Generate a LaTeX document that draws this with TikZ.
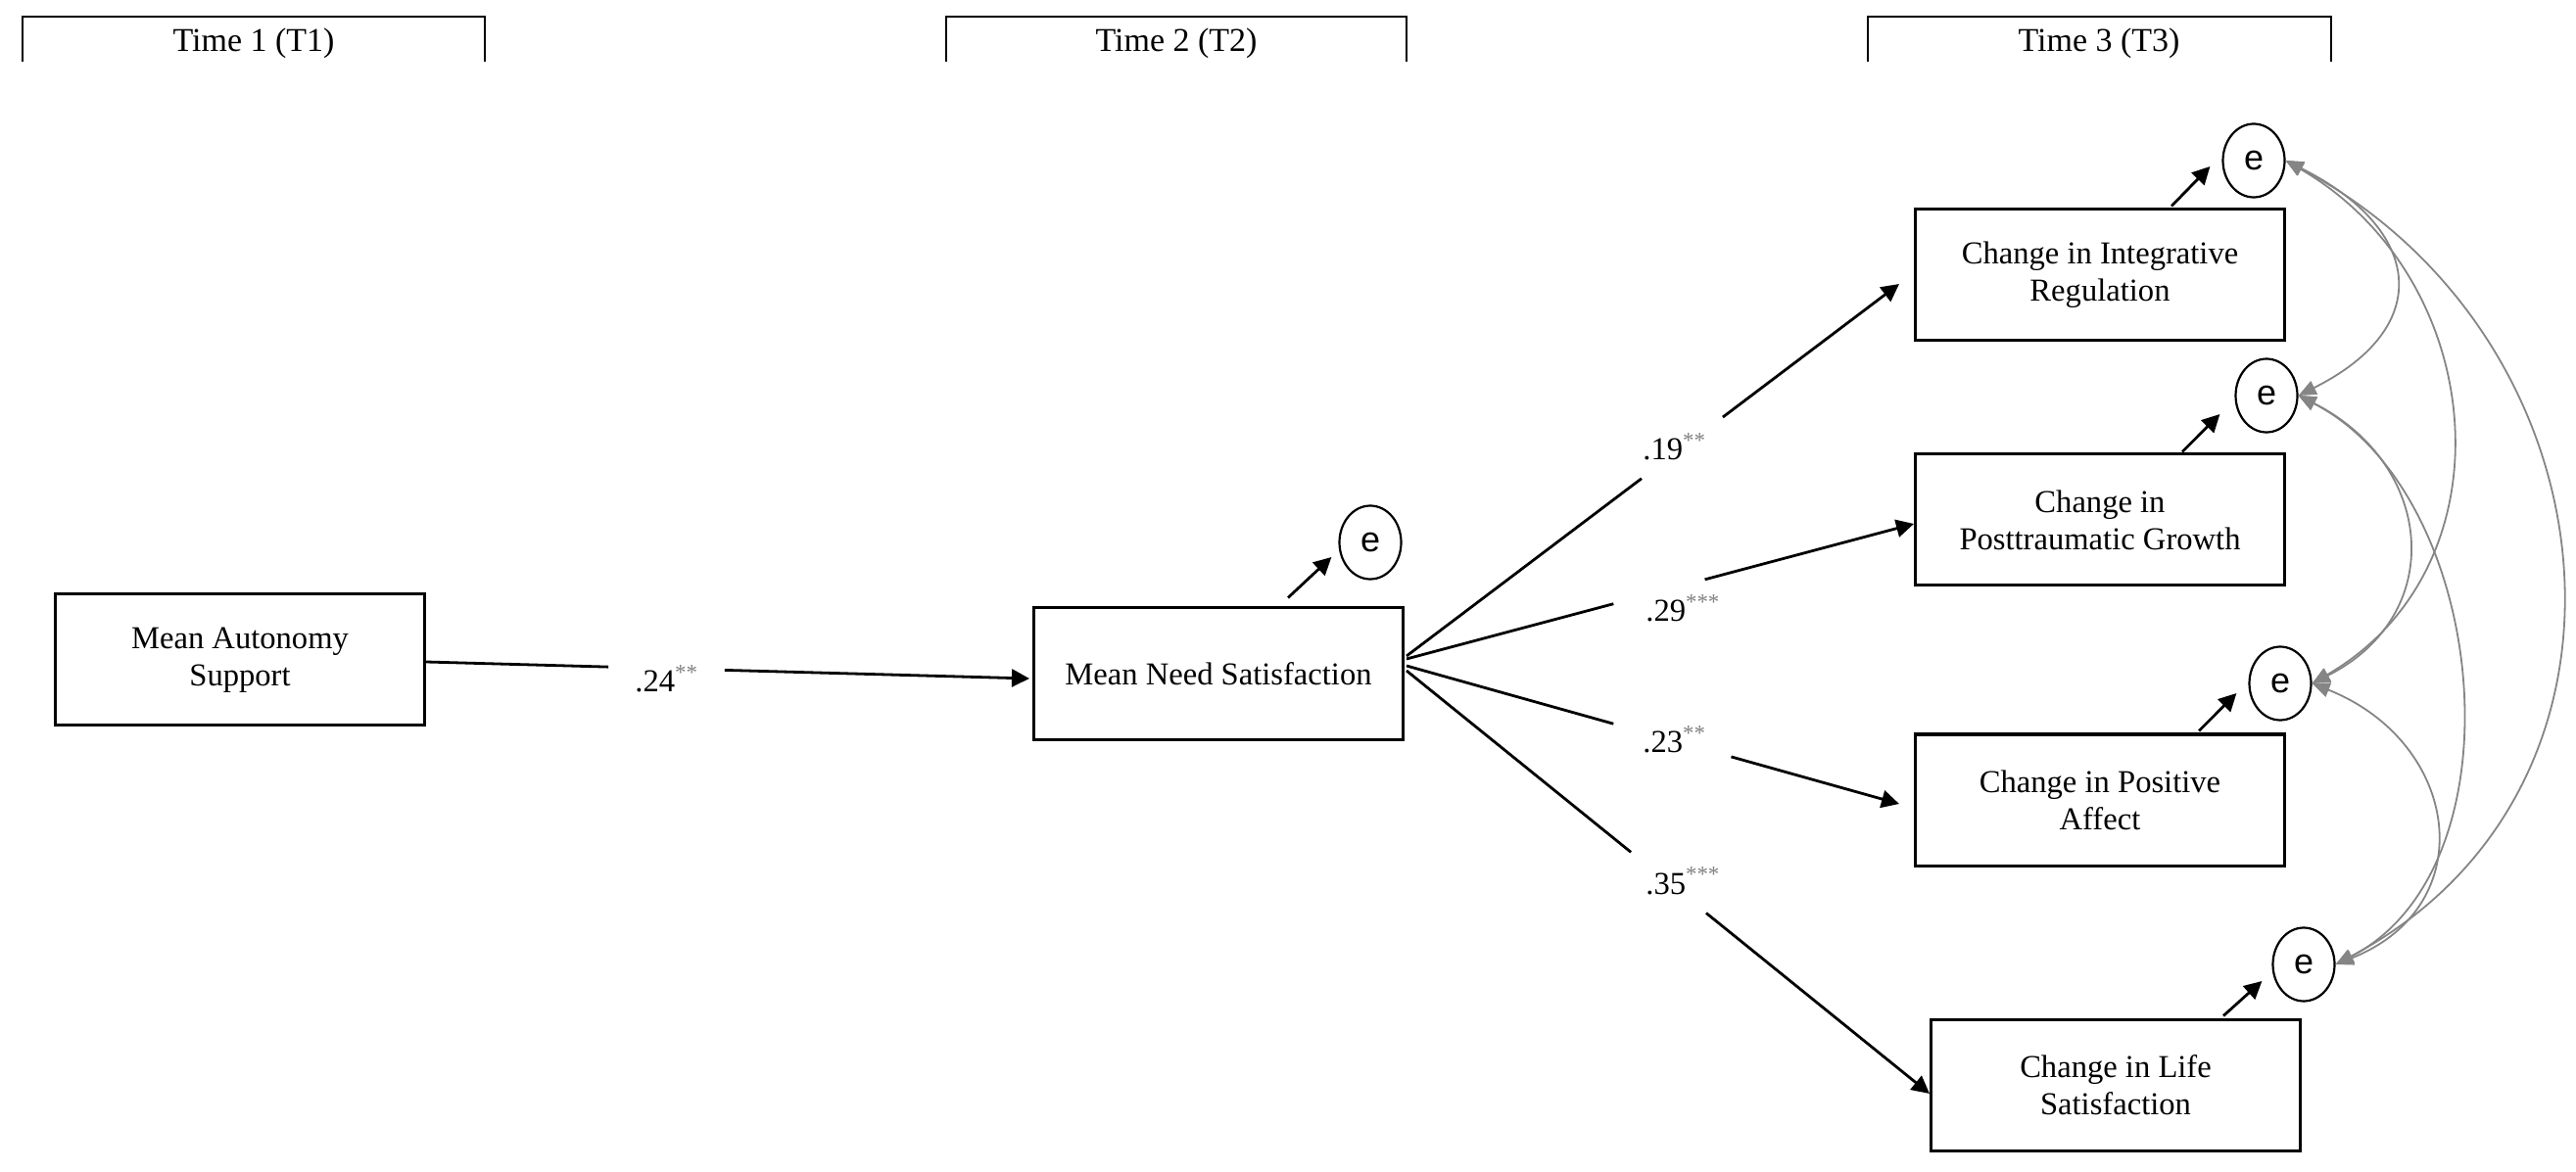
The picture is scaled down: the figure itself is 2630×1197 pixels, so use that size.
\documentclass[tikz,border=0pt]{standalone}
\usepackage{fontspec}
\setmainfont{Liberation Serif}
\newfontfamily\efont{Liberation Sans}
\usetikzlibrary{arrows.meta,calc,shapes.geometric}
\begin{document}
\begin{tikzpicture}[x=0.5pt,y=-0.5pt]
\tikzset{
  box/.style={draw, line width=1.5pt, minimum width=188.5pt, minimum height=67pt, align=center, inner sep=0pt, font=\fontsize{16.3}{19}\selectfont},
  err/.style={draw, ellipse, line width=1.1pt, minimum width=31.5pt, minimum height=37.5pt, inner sep=0pt, font=\efont\fontsize{18}{18}\selectfont},
  seg/.style={line width=1.4pt},
  reg/.style={line width=1.4pt, -{Triangle[length=9pt,width=9pt]}},
  cov/.style={draw=black!48, line width=0.9pt, {Triangle[length=9pt,width=7.5pt]}-{Triangle[length=9pt,width=7.5pt]}},
  coef/.style={anchor=base west, inner sep=0pt, font=\fontsize{16.3}{19}\selectfont},
  hdr/.style={anchor=base, inner sep=0pt, font=\fontsize{17}{19}\selectfont},
  bracket/.style={line width=1.3pt}
}
\newcommand{\stars}[1]{{\color{black!50}\textsuperscript{#1}}}
\useasboundingbox (0,0) rectangle (2630,1197);

% headers
\node[hdr] (h1) at (259,53) {Time 1 (T1)};
\node[hdr] (h2) at (1201,53) {Time 2 (T2)};
\node[hdr] (h3) at (2143,53) {Time 3 (T3)};
\draw[bracket] (23,63) -- (23,17) -- (495,17) -- (495,63);
\draw[bracket] (966,63) -- (966,17) -- (1436,17) -- (1436,63);
\draw[bracket] (1907,63) -- (1907,17) -- (2380,17) -- (2380,63);

% boxes
\node[box] (mas) at (245,674) {Mean Autonomy\\Support};
\node[box] (mns) at (1244,688) {Mean Need Satisfaction};
\node[box] (cir) at (2144,281) {Change in Integrative\\Regulation};
\node[box] (cpg) at (2144,531) {Change in\\Posttraumatic Growth};
\node[box] (cpa) at (2144,817) {Change in Positive\\Affect};
\node[box] (cls) at (2160,1108) {Change in Life\\Satisfaction};

% error terms
\node[err] (e0) at (1399,554) {e};
\node[err] (e1) at (2301,164) {e};
\node[err] (e2) at (2314,404) {e};
\node[err] (e3) at (2328,698) {e};
\node[err] (e4) at (2352,985) {e};

\draw[reg] ($(mns.north)+(71,-9)$) -- ($(e0.west)+(-7,15)$);
\draw[reg] ($(cir.north)+(73,-2)$) -- ($(e1.west)+(-12,6)$);
\draw[reg] ($(cpg.north)+(84,-1)$) -- ($(e2.west)+(-15,19)$);
\draw[reg] ($(cpa.north)+(101,-2)$) -- ($(e3.west)+(-12,10)$);
\draw[reg] ($(cls.north)+(110,-2)$) -- ($(e4.west)+(-10,17)$);

% coefficient labels
\node[coef] (l0) at (648,707) {.24\stars{**}};
\node[coef] (l1) at (1677,470) {.19\stars{**}};
\node[coef] (l2) at (1680,635) {.29\stars{***}};
\node[coef] (l3) at (1677,769) {.23\stars{**}};
\node[coef] (l4) at (1680,913) {.35\stars{***}};

% regression paths
\coordinate (s0) at ($(mas.east)+(0,2)$);
\coordinate (t0) at ($(mns.west)+(-3,5)$);
\draw[seg] (s0) -- ($(s0)!0.302!(t0)$);
\draw[reg] ($(s0)!0.495!(t0)$) -- (t0);

\coordinate (s1) at ($(mns.east)+(2,-18)$);
\coordinate (t1) at ($(cir.west)+(-15,9)$);
\draw[seg] (s1) -- ($(s1)!0.477!(t1)$);
\draw[reg] ($(s1)!0.642!(t1)$) -- (t1);

\coordinate (s2) at ($(mns.east)+(2,-15)$);
\coordinate (t2) at ($(cpg.west)+(0,4)$);
\draw[seg] (s2) -- ($(s2)!0.408!(t2)$);
\draw[reg] ($(s2)!0.588!(t2)$) -- (t2);

\coordinate (s3) at ($(mns.east)+(2,-8)$);
\coordinate (t3) at ($(cpa.west)+(-15,4)$);
\draw[seg] (s3) -- ($(s3)!0.42!(t3)$);
\draw[reg] ($(s3)!0.659!(t3)$) -- (t3);

\coordinate (s4) at ($(mns.east)+(2,-3)$);
\coordinate (t4) at ($(cls.west)+(0,9)$);
\draw[seg] (s4) -- ($(s4)!0.429!(t4)$);
\draw[reg] ($(s4)!0.573!(t4)$) -- (t4);

% covariances
\draw[cov] (e1.east) .. controls +(140,70) and +(140,-70) .. (e2.east);
\draw[cov] (e1.east) .. controls +(207,120) and +(207,-120) .. (e3.east);
\draw[cov] (e1.east) .. controls +(339,180) and +(339,-180) .. (e4.east);
\draw[cov] (e2.east) .. controls +(139,70) and +(139,-70) .. (e3.east);
\draw[cov] (e2.east) .. controls +(194,100) and +(194,-100) .. (e4.east);
\draw[cov] (e3.east) .. controls +(151,60) and +(151,-60) .. (e4.east);
\end{tikzpicture}
\end{document}
